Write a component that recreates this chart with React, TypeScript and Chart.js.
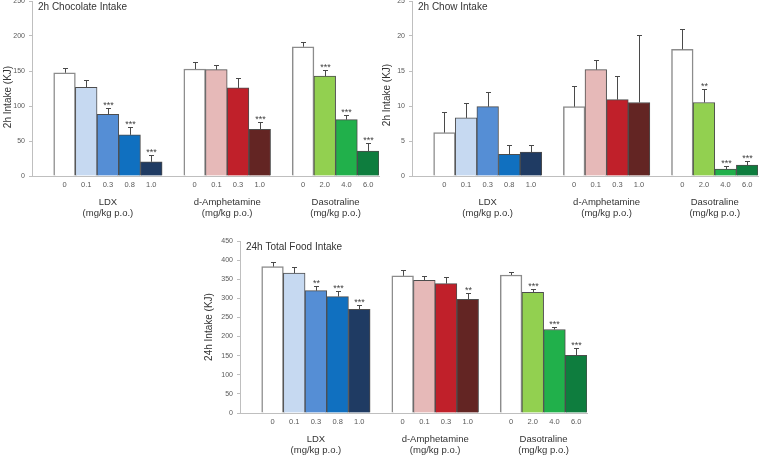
import React, { useEffect, useRef } from 'react';
import { Chart, registerables } from 'chart.js';

Chart.register(...registerables);

// ---------- categories ----------
const ldxDoses = ['0', '0.1', '0.3', '0.8', '1.0'];
const ampDoses = ['0', '0.1', '0.3', '1.0'];
const dasoDoses = ['0', '2.0', '4.0', '6.0'];
const drugNames = ['LDX', 'd-Amphetamine', 'Dasotraline'];
const doseUnit = '(mg/kg p.o.)';

// ---------- colours ----------
const ldxColors = ['#ffffff', '#c6d9f1', '#558ed5', '#1070c0', '#1f3b63'];
const ampColors = ['#ffffff', '#e6b9b8', '#c0202a', '#632523'];
const dasoColors = ['#ffffff', '#92d050', '#21b04b', '#0e7d3e'];

// ---------- 2h chocolate intake ----------
const chocLdx = [147.5, 126.8, 88.2, 58.8, 20.3];
const chocLdxSem = [6.8, 10.6, 8.7, 10.6, 9.6];
const chocLdxSig = ['', '', '***', '***', '***'];
const chocAmp = [152.8, 151.9, 125.8, 66.5];
const chocAmpSem = [10.2, 6.1, 13.5, 11.1];
const chocAmpSig = ['', '', '', '***'];
const chocDaso = [184.7, 142.7, 80.5, 35.7];
const chocDasoSem = [7.2, 8.7, 6.3, 11.6];
const chocDasoSig = ['', '***', '***', '***'];

// ---------- 2h chow intake ----------
const chowLdx = [6.2, 8.3, 9.9, 3.1, 3.4];
const chowLdxSem = [3.0, 2.2, 2.1, 1.4, 1.0];
const chowLdxSig = ['', '', '', '', ''];
const chowAmp = [9.9, 15.2, 10.9, 10.5];
const chowAmpSem = [2.95, 1.4, 3.4, 9.6];
const chowAmpSig = ['', '', '', ''];
const chowDaso = [18.1, 10.5, 1.0, 1.55];
const chowDasoSem = [2.96, 2.0, 0.48, 0.65];
const chowDasoSig = ['', '**', '***', '***'];

// ---------- 24h total food intake ----------
const totLdx = [383, 366, 320, 304.6, 271.5];
const totLdxSem = [12, 15, 12.5, 15.4, 11.5];
const totLdxSig = ['', '', '**', '***', '***'];
const totAmp = [359, 347.3, 338.6, 297.7];
const totAmpSem = [16, 11.3, 18.2, 17.3];
const totAmpSig = ['', '', '', '**'];
const totDaso = [361, 316, 218.5, 150.6];
const totDasoSem = [7, 7.8, 7.5, 18.2];
const totDasoSig = ['', '***', '***', '***'];

const FONT = '"Liberation Sans", Arial, Helvetica, sans-serif';

function slots<T>(a: T[], b: T[], c: T[], gap: T): T[] {
  return [gap, ...a, gap, ...b, gap, ...c];
}

const slotLabels = slots(ldxDoses, ampDoses, dasoDoses, '');
const slotColors = slots(ldxColors, ampColors, dasoColors, '#ffffff');
const groupRanges = [
  [1, ldxDoses.length],
  [ldxDoses.length + 2, ldxDoses.length + 1 + ampDoses.length],
  [ldxDoses.length + ampDoses.length + 3, ldxDoses.length + ampDoses.length + 2 + dasoDoses.length],
];

type PanelCfg = {
  title: string;
  yTitle: string;
  max: number;
  step: number;
  values: (number | null)[];
  sems: (number | null)[];
  sigs: string[];
  left: number;
  top: number;
  width: number;
  height: number;
  axisW: number;
  padTop: number;
  padRight: number;
  xH: number;
  yTitleX: number;
  yTitleY: number;
};

const panels: PanelCfg[] = [
  {
    title: '2h Chocolate Intake',
    yTitle: '2h Intake (KJ)',
    max: 250,
    step: 50,
    values: slots<number | null>(chocLdx, chocAmp, chocDaso, null),
    sems: slots<number | null>(chocLdxSem, chocAmpSem, chocDasoSem, null),
    sigs: slots(chocLdxSig, chocAmpSig, chocDasoSig, ''),
    left: 0, top: -8, width: 380, height: 228,
    axisW: 32, padTop: 9, padRight: 1, xH: 44,
    yTitleX: 8, yTitleY: 105,
  },
  {
    title: '2h Chow Intake',
    yTitle: '2h Intake (KJ)',
    max: 25,
    step: 5,
    values: slots<number | null>(chowLdx, chowAmp, chowDaso, null),
    sems: slots<number | null>(chowLdxSem, chowAmpSem, chowDasoSem, null),
    sigs: slots(chowLdxSig, chowAmpSig, chowDasoSig, ''),
    left: 380, top: -8, width: 379, height: 228,
    axisW: 32, padTop: 9, padRight: 1, xH: 44,
    yTitleX: 7, yTitleY: 103,
  },
  {
    title: '24h Total Food Intake',
    yTitle: '24h Intake (KJ)',
    max: 450,
    step: 50,
    values: slots<number | null>(totLdx, totAmp, totDaso, null),
    sems: slots<number | null>(totLdxSem, totAmpSem, totDasoSem, null),
    sigs: slots(totLdxSig, totAmpSig, totDasoSig, ''),
    left: 200, top: 230, width: 390, height: 226,
    axisW: 40, padTop: 11, padRight: 3, xH: 43,
    yTitleX: 9, yTitleY: 97,
  },
];

function Panel({ cfg }: { cfg: PanelCfg }) {
  const ref = useRef<HTMLCanvasElement | null>(null);
  useEffect(() => {
    if (!ref.current) return;
    const annot = {
      id: 'annot',
      afterDatasetsDraw(chart: any) {
        const { ctx, chartArea } = chart;
        const x = chart.scales.x;
        const y = chart.scales.y;
        ctx.save();
        // error bars and significance
        cfg.values.forEach((v, i) => {
          if (v == null) return;
          const sem = cfg.sems[i] || 0;
          const px = Math.round(x.getPixelForValue(i)) + 0.5;
          const top = y.getPixelForValue(v);
          const capY = Math.round(y.getPixelForValue(v + sem)) + 0.5;
          ctx.strokeStyle = '#4a4a4a';
          ctx.lineWidth = 1;
          ctx.beginPath();
          ctx.moveTo(px, top);
          ctx.lineTo(px, capY);
          ctx.moveTo(px - 2.5, capY);
          ctx.lineTo(px + 2.5, capY);
          ctx.stroke();
          const sig = cfg.sigs[i];
          if (sig) {
            ctx.fillStyle = '#404040';
            ctx.font = `9px ${FONT}`;
            ctx.textAlign = 'center';
            ctx.textBaseline = 'alphabetic';
            ctx.fillText(sig, px, capY - 1);
          }
        });
        // group labels
        ctx.fillStyle = '#333333';
        ctx.font = `9.5px ${FONT}`;
        ctx.textAlign = 'center';
        ctx.textBaseline = 'middle';
        groupRanges.forEach((r, gi) => {
          const cx = (x.getPixelForValue(r[0]) + x.getPixelForValue(r[1])) / 2;
          ctx.fillText(drugNames[gi], cx, chartArea.bottom + 26);
          ctx.fillText(doseUnit, cx, chartArea.bottom + 37);
        });
        // panel title
        ctx.font = `10px ${FONT}`;
        ctx.textAlign = 'left';
        ctx.fillText(cfg.title, chartArea.left + 6, chartArea.top + 6);
        // y title
        ctx.translate(cfg.yTitleX, cfg.yTitleY);
        ctx.rotate(-Math.PI / 2);
        ctx.textAlign = 'center';
        ctx.fillText(cfg.yTitle, 0, 0);
        ctx.restore();
      },
    };

    const chart = new Chart(ref.current, {
      type: 'bar',
      data: {
        labels: slotLabels,
        datasets: [
          {
            data: cfg.values as any,
            backgroundColor: slotColors,
            borderColor: slotColors.map((c) => (c === '#ffffff' ? '#8c8c8c' : '#4d4d4d')),
            borderWidth: slotColors.map((c) => (c === '#ffffff' ? 1.5 : 1)),
            barPercentage: 1,
            categoryPercentage: 1,
          },
        ],
      },
      options: {
        animation: false,
        responsive: false,
        maintainAspectRatio: false,
        layout: { padding: { top: cfg.padTop, right: cfg.padRight, left: 0, bottom: 0 } },
        plugins: { legend: { display: false }, tooltip: { enabled: false }, title: { display: false } },
        scales: {
          x: {
            type: 'category',
            offset: true,
            grid: { display: false, drawTicks: false },
            border: { display: true, color: '#bfbfbf', width: 1 },
            ticks: {
              autoSkip: false,
              maxRotation: 0,
              minRotation: 0,
              padding: 4,
              color: '#595959',
              font: { family: FONT, size: 7.5 },
              callback: (_v: any, i: number) => slotLabels[i],
            },
            afterFit: (s: any) => {
              s.height = cfg.xH;
            },
          },
          y: {
            min: 0,
            max: cfg.max,
            grid: { display: true, drawOnChartArea: false, drawTicks: true, tickLength: 3, color: '#bfbfbf' },
            border: { display: true, color: '#bfbfbf', width: 1 },
            ticks: {
              stepSize: cfg.step,
              padding: 4,
              color: '#595959',
              font: { family: FONT, size: 7 },
            },
            afterFit: (s: any) => {
              s.width = cfg.axisW;
            },
          },
        },
      },
      plugins: [annot],
    } as any);
    return () => chart.destroy();
  }, [cfg]);

  return (
    <canvas
      ref={ref}
      width={cfg.width}
      height={cfg.height}
      style={{
        position: 'absolute',
        left: cfg.left,
        top: cfg.top,
        width: cfg.width,
        height: cfg.height,
      }}
    />
  );
}

export default function App() {
  return (
    <div
      style={{
        position: 'absolute',
        left: 0,
        top: 0,
        width: 759,
        height: 456,
        overflow: 'hidden',
        background: '#ffffff',
      }}
    >
      {panels.map((p) => (
        <Panel key={p.title} cfg={p} />
      ))}
    </div>
  );
}
